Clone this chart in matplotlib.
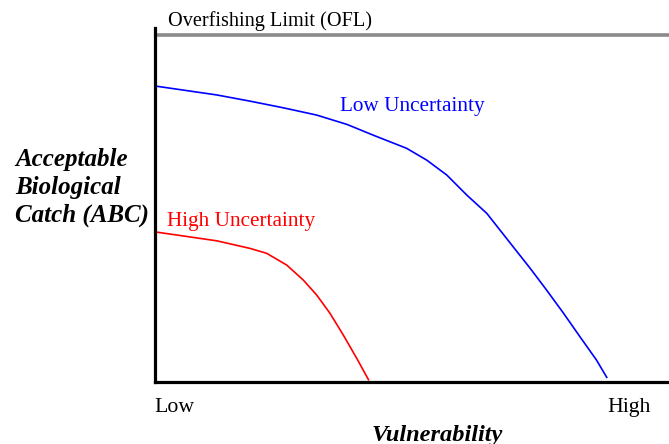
import matplotlib
matplotlib.use("Agg")
import matplotlib.pyplot as plt

# Data (x: 0=Low .. 1=right edge; y: OFL = 100)
low_x = [0.0, 0.056, 0.121, 0.186, 0.250, 0.315, 0.374, 0.425, 0.490, 0.529,
         0.568, 0.607, 0.646, 0.697, 0.730, 0.762, 0.795, 0.827, 0.859, 0.879]
low_y = [85.3, 84.1, 82.7, 80.9, 79.0, 76.9, 74.2, 71.1, 67.3, 63.9,
         59.6, 53.8, 48.5, 38.9, 32.7, 26.4, 19.7, 12.9, 6.2, 1.2]
high_x = [0.0, 0.056, 0.121, 0.186, 0.218, 0.257, 0.289, 0.315, 0.341, 0.367, 0.393, 0.416]
high_y = [43.2, 42.0, 40.6, 38.4, 37.0, 33.6, 29.3, 25.0, 19.7, 13.4, 6.7, 0.5]
ofl = 100
x_ticks = [0.0, 0.880]
x_tick_labels = ["Low", "High"]

W, H = 669, 444
fig = plt.figure(figsize=(W / 100, H / 100), dpi=100)
left_px, right_px, bottom_px, top_px = 154.5, 669, 381.5, 28
ax = fig.add_axes([left_px / W, (H - bottom_px) / H,
                   (right_px - left_px) / W, (bottom_px - top_px) / H])
ymax = (bottom_px - top_px) / ((bottom_px - 35) / 100)
ax.set_xlim(0, 1)
ax.set_ylim(0, ymax)

serif = ["Liberation Serif", "DejaVu Serif"]

ax.axhline(ofl, color="#8a8a8a", lw=2.6, zorder=1)
ax.plot(low_x, low_y, color="#0000ff", lw=1.2, zorder=2)
ax.plot(high_x, high_y, color="#ff0000", lw=1.2, zorder=2)

for s in ["top", "right"]:
    ax.spines[s].set_visible(False)
for s in ["left", "bottom"]:
    ax.spines[s].set_linewidth(2.3)
    ax.spines[s].set_color("black")
    ax.spines[s].set_zorder(3)
ax.set_yticks([])
ax.set_xticks(x_ticks)
ax.set_xticklabels(x_tick_labels, family=serif, fontsize=15.7)
ax.tick_params(axis="x", length=0, pad=12)
for lbl in ax.get_xticklabels():
    lbl.set_ha("left")

ax.text(0.0265, 104.0, "Overfishing Limit (OFL)", family=serif, fontsize=14.6,
        va="center", ha="left", color="black")
ax.text(0.36, 79.4, "Low Uncertainty", family=serif, fontsize=15.3,
        color="#0000ff", va="center", ha="left")
ax.text(0.0245, 46.3, "High Uncertainty", family=serif, fontsize=15.3,
        color="#ff0000", va="center", ha="left")

fig.text(15 / W, 1 - 148 / H, "Acceptable\nBiological\nCatch (ABC)", family=serif,
         fontsize=18, fontweight="bold", fontstyle="italic", va="top", ha="left",
         linespacing=1.255)
fig.text(437.5 / W, 1 - 435 / H, "Vulnerability", family=serif, fontsize=17.6,
         fontweight="bold", fontstyle="italic", va="center", ha="center")

fig.savefig("out.png", dpi=100)
